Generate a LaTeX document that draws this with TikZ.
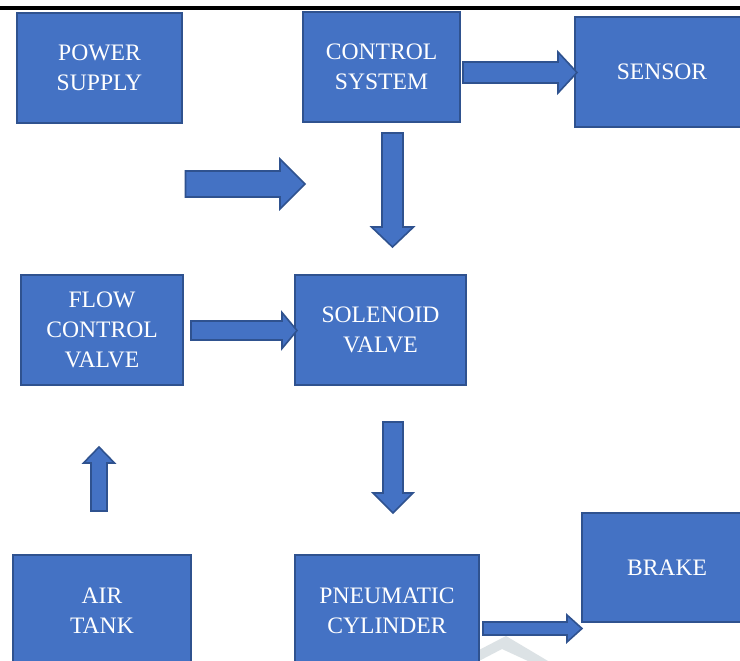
\documentclass[tikz,border=0pt]{standalone}
\usepackage{fontspec}
\setmainfont{Liberation Serif}
\usepackage{tikz}
\usetikzlibrary{calc}
\definecolor{boxblue}{HTML}{4472C4}
\definecolor{boxline}{HTML}{2F528F}
\definecolor{markgray}{HTML}{DCE2E5}
\tikzset{
	block/.style={rectangle, draw=boxline, fill=boxblue, line width=1.2pt, text=white, align=center,
		inner sep=0pt, font=\fontsize{17.7}{22.4}\selectfont},
	blockarrow/.style={draw=boxline, fill=boxblue, line width=1.2pt, line join=miter}
}
% block arrow: (start)(tip){half shaft}{half head}{head length}, sizes in px
\def\blockarrow(#1)(#2)#3#4#5{\draw[blockarrow]
	($(#1)!#3*0.75pt!90:(#2)$) -- ($($(#2)!#5*0.75pt!(#1)$)!#3*0.75pt!-90:(#1)$)
	-- ($($(#2)!#5*0.75pt!(#1)$)!#4*0.75pt!-90:(#1)$) -- (#2)
	-- ($($(#2)!#5*0.75pt!(#1)$)!#4*0.75pt!90:(#1)$) -- ($($(#2)!#5*0.75pt!(#1)$)!#3*0.75pt!90:(#1)$)
	-- ($(#1)!#3*0.75pt!-90:(#2)$) -- cycle;}

\begin{document}
\begin{tikzpicture}[x=0.75pt,y=-0.75pt]
		%%%%% FRAME %%%%%
		\useasboundingbox (0,0) rectangle (740,661);
		\clip (0,0) rectangle (740,661);
		\fill[white] (0,0) rectangle (740,661);
		\fill[black] (0,6) rectangle (740,9.5);
		
		%%%%% WATERMARK %%%%%
		\fill[markgray] (479,650) -- (506,636) -- (548,661) -- (528,661) -- (502,649) -- (479,661) -- cycle;
		
		%%%%% BLOCKS %%%%%
		\node[block, minimum width=165*0.75pt, minimum height=110*0.75pt] (power) at (99.5,68) {POWER\\SUPPLY};
		\node[block, minimum width=157*0.75pt, minimum height=110*0.75pt] (control) at (381.5,67) {CONTROL\\SYSTEM};
		\node[block, minimum width=174*0.75pt, minimum height=110*0.75pt] (sensor) at (662,72) {SENSOR};
		\node[block, minimum width=162*0.75pt, minimum height=110*0.75pt] (flow) at (102,330) {FLOW\\CONTROL\\VALVE};
		\node[block, minimum width=171*0.75pt, minimum height=110*0.75pt] (solenoid) at (380.5,330) {SOLENOID\\VALVE};
		\node[block, minimum width=178*0.75pt, minimum height=112*0.75pt] (airtank) at (102,611) {AIR\\TANK};
		\node[block, minimum width=184*0.75pt, minimum height=112*0.75pt] (pneumatic) at (387,611) {PNEUMATIC\\CYLINDER};
		\node[block, minimum width=170*0.75pt, minimum height=109*0.75pt] (brake) at (667,567.5) {BRAKE};
		
		%%%%% ARROWS %%%%%
		\coordinate (cs1) at (463,72.5);   \coordinate (cs2) at (577,72.5);
		\coordinate (ps1) at (185.5,184);  \coordinate (ps2) at (305,184);
		\coordinate (cv1) at (392.5,133);  \coordinate (cv2) at (392.5,247);
		\coordinate (fv1) at (191,330.5);  \coordinate (fv2) at (297,330.5);
		\coordinate (vp1) at (393,422);    \coordinate (vp2) at (393,513);
		\coordinate (at1) at (99,511);     \coordinate (at2) at (99,447);
		\coordinate (pb1) at (483,628.5);  \coordinate (pb2) at (582,628.5);
		
		\blockarrow(cs1)(cs2){10.5}{20.5}{19}
		\blockarrow(ps1)(ps2){13}{25}{25}
		\blockarrow(cv1)(cv2){10.5}{21}{20}
		\blockarrow(fv1)(fv2){9.5}{18}{15}
		\blockarrow(vp1)(vp2){10}{20}{20}
		\blockarrow(at1)(at2){8}{15.5}{16}
		\blockarrow(pb1)(pb2){6.5}{13.5}{15}
		%%%%% END %%%%%
	\end{tikzpicture}
\end{document}
